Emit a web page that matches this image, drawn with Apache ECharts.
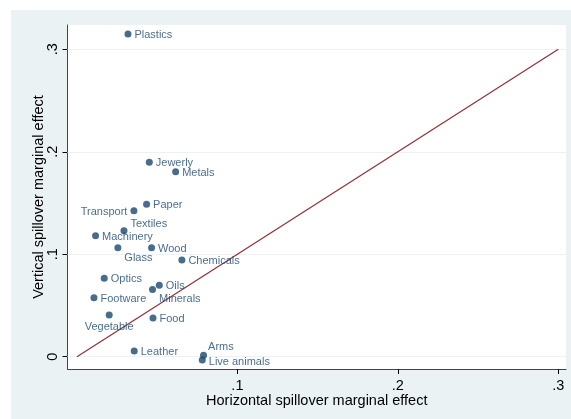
<!DOCTYPE html>
<html>
<head>
<meta charset="utf-8">
<script src="https://cdn.jsdelivr.net/npm/echarts@6/dist/echarts.min.js"></script>
<style>html,body{margin:0;padding:0;background:#fff}#c{width:571px;height:419px}</style>
</head>
<body>
<div id="c"></div>
<script>
// ---- data ----
var sectors = ['Plastics','Jewerly','Metals','Paper','Transport','Textiles','Machinery','Glass','Wood','Chemicals','Optics','Oils','Minerals','Footware','Vegetable','Food','Leather','Arms','Live animals'];
var horizontal = [0.0318,0.0451,0.0615,0.0434,0.0355,0.0293,0.0116,0.0255,0.0465,0.0654,0.0170,0.0513,0.0471,0.0106,0.0201,0.0474,0.0357,0.0789,0.0781];
var vertical   = [0.3148,0.1897,0.1805,0.1487,0.1424,0.1229,0.1180,0.1063,0.1063,0.0943,0.0765,0.0697,0.0657,0.0576,0.0407,0.0378,0.0056,0.0014,-0.0032];
var refLine = [[0,0],[0.3,0.3]];
var xTicks = [0.1,0.2,0.3];
var yTicks = [0,0.1,0.2,0.3];

// ---- styling ----
var labelShift = {
  'Transport': {position:'left', dx:0, dy:1},
  'Textiles': {position:'right', dx:0, dy:-7},
  'Glass': {position:'right', dx:0, dy:10},
  'Minerals': {position:'right', dx:0, dy:10},
  'Vegetable': {position:'bottom', dx:0, dy:0},
  'Arms': {position:'right', dx:-2, dy:-8},
  'Live animals': {position:'right', dx:0, dy:2}
};
var NAVY = '#1a476f';
var fmt = function(v){ return v === 0 ? '0' : String(+v.toFixed(3)).replace(/^0\./,'.').replace(/^-0\./,'-.'); };

var pts = sectors.map(function(n,i){
  var ls = labelShift[n] || {position:'right'};
  return {name:n, value:[horizontal[i], vertical[i]], label:{show:true, formatter:n, position:ls.position, distance:3}};
});

var chart = echarts.init(document.getElementById('c'), null, {renderer:'canvas'});
chart.setOption({
  animation:false,
  backgroundColor:'#ffffff',
  graphic:[{type:'rect', z:-100, shape:{x:11,y:10,width:560,height:409}, style:{fill:'#eaf2f3'}, silent:true}],
  grid:{left:67.5, right:5, top:25, bottom:50, show:true, backgroundColor:'#ffffff', borderWidth:0},
  xAxis:{
    type:'value', min:-0.00589, max:0.3048,
    name:'Horizontal spillover marginal effect', nameLocation:'middle', nameGap:24, nameMoveOverlap:false,
    nameTextStyle:{fontFamily:'Liberation Sans, Arial', fontSize:14.5, color:'#000'},
    axisLine:{show:true, onZero:false, lineStyle:{color:'#444', width:1}},
    axisTick:{show:true, customValues:xTicks, length:5, lineStyle:{color:'#000'}},
    axisLabel:{customValues:xTicks, formatter:fmt, margin:9, fontFamily:'Liberation Sans, Arial', fontSize:14.5, color:'#000'},
    splitLine:{show:false}
  },
  yAxis:{
    type:'value', min:-0.012, max:0.3237,
    name:'Vertical spillover marginal effect', nameLocation:'middle', nameGap:21, nameMoveOverlap:false,
    nameTextStyle:{fontFamily:'Liberation Sans, Arial', fontSize:14.5, color:'#000'},
    axisLine:{show:true, onZero:false, lineStyle:{color:'#444', width:1}},
    axisTick:{show:true, customValues:yTicks, length:5, lineStyle:{color:'#000'}},
    axisLabel:{customValues:yTicks, formatter:fmt, rotate:90, margin:7, fontFamily:'Liberation Sans, Arial', fontSize:14.5, color:'#000'},
    splitLine:{show:false}
  },
  series:[
    {
      type:'line', data:refLine, symbol:'none', silent:true, z:2,
      lineStyle:{color:'#90353b', width:1.3},
      markLine:{silent:true, symbol:'none', label:{show:false}, z:1,
        lineStyle:{color:'#eaf2f3', width:1, type:'solid'},
        data:yTicks.map(function(t){return {yAxis:t};})}
    },
    {
      type:'scatter', data:pts, symbol:'circle', symbolSize:7, z:3,
      itemStyle:{color:NAVY},
      label:{show:true, color:NAVY, fontFamily:'Liberation Sans, Arial', fontSize:11},
      labelLayout:function(p){
        var s = labelShift[sectors[p.dataIndex]];
        return {dx: s ? s.dx : 0, dy: s ? s.dy : 1, hideOverlap:false};
      }
    }
  ]
});
</script>
</body>
</html>
